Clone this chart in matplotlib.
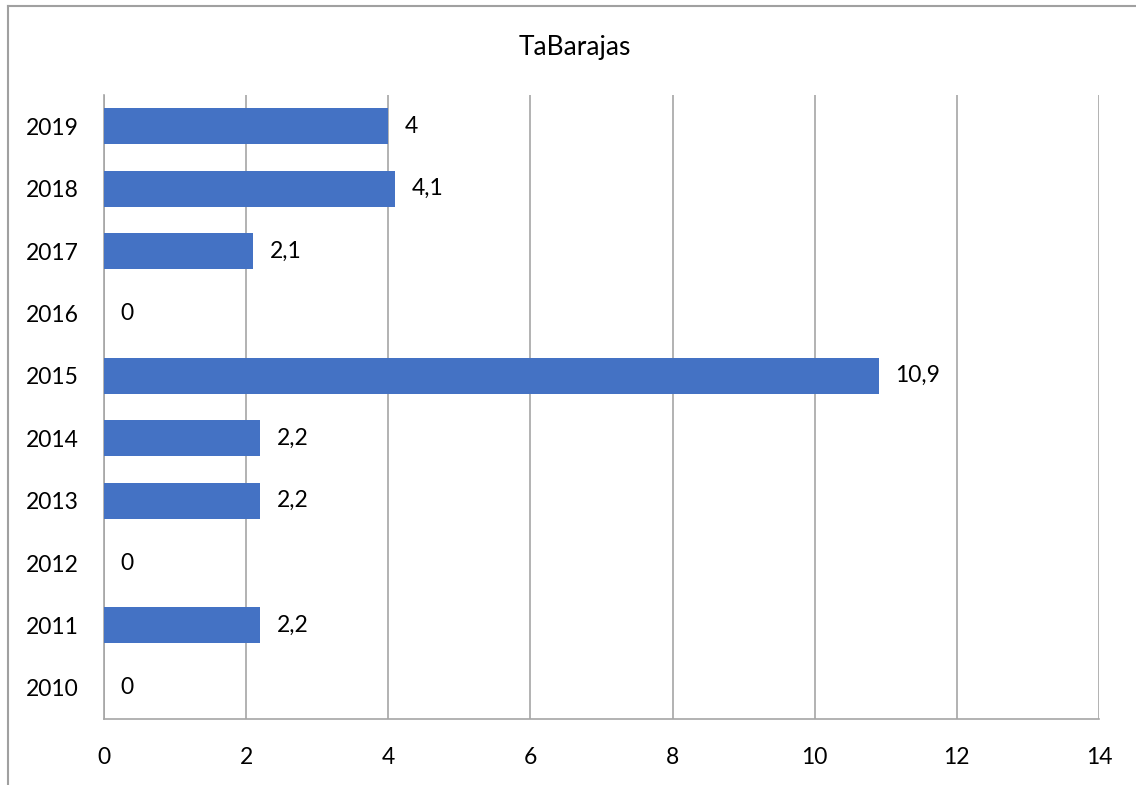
import matplotlib
matplotlib.use("Agg")
import matplotlib.pyplot as plt
from matplotlib.lines import Line2D

years = ["2010", "2011", "2012", "2013", "2014", "2015", "2016", "2017", "2018", "2019"]
values = [0, 2.2, 0, 2.2, 2.2, 10.9, 0, 2.1, 4.1, 4]
labels = ["0", "2,2", "0", "2,2", "2,2", "10,9", "0", "2,1", "4,1", "4"]
xticks = [0, 2, 4, 6, 8, 10, 12, 14]
title = "TaBarajas"

plt.rcParams['font.family'] = ['Lato', 'DejaVu Sans']

fig = plt.figure(figsize=(11.36, 7.85), dpi=100)
W, H = 1136, 785
ax = fig.add_axes([104 / W, 1 - 719 / H, (1099 - 104) / W, (719 - 95) / H])

FS = 16.5
pos = list(range(len(years)))
ax.barh(pos, values, height=0.58, color="#4472C4", zorder=3)
ax.set_ylim(-0.5, len(years) - 0.5)
ax.set_xlim(0, 14)
ax.set_xticks(xticks)
ax.set_xticklabels([str(t) for t in xticks], fontsize=FS)
ax.set_yticks(pos)
ax.set_yticklabels(years, fontsize=FS)
ax.tick_params(axis='both', length=0)
ax.tick_params(axis='y', pad=18)
ax.tick_params(axis='x', pad=20)
ax.grid(axis='x', color="#A6A6A6", linewidth=1.2, zorder=0)
for s in ["top", "right"]:
    ax.spines[s].set_visible(False)
for s in ["left", "bottom"]:
    ax.spines[s].set_color("#A6A6A6")
    ax.spines[s].set_linewidth(1.2)

for p, v, l in zip(pos, values, labels):
    ax.annotate(l, (v, p), xytext=(12, 0), textcoords="offset points",
                va="center", ha="left", fontsize=FS, color="#000000")

fig.text(575 / W, 1 - 47 / H, title, ha="center", va="center", fontsize=19)

fig.add_artist(Line2D([8 / W, 8 / W], [0, 1 - 6 / H], transform=fig.transFigure, color="#A0A0A0", linewidth=1.5))
fig.add_artist(Line2D([8 / W, 1], [1 - 6 / H, 1 - 6 / H], transform=fig.transFigure, color="#A0A0A0", linewidth=1.5))

fig.savefig("out.png", dpi=100)
